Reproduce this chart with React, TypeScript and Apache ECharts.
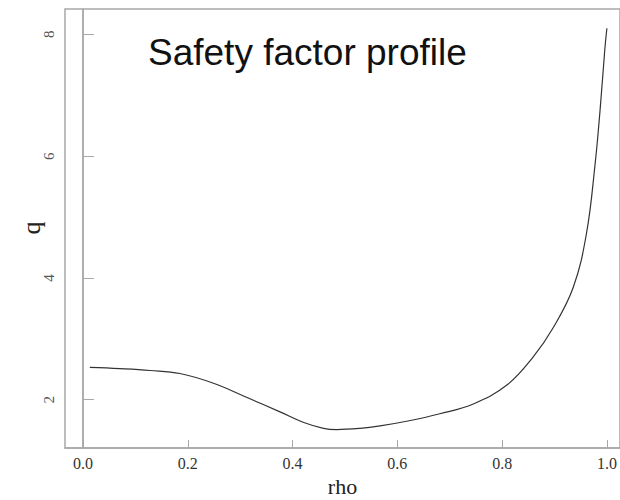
import React, { useEffect, useRef } from "react";
import * as echarts from "echarts";

const rho = [0.013, 0.07, 0.128, 0.185, 0.249, 0.312, 0.376, 0.42, 0.459, 0.484, 0.529, 0.567, 0.62, 0.681, 0.745, 0.809, 0.859, 0.898, 0.936, 0.961, 0.977, 0.987, 0.996, 1.0];
const q = [2.53, 2.51, 2.48, 2.43, 2.27, 2.04, 1.8, 1.63, 1.53, 1.51, 1.53, 1.57, 1.65, 1.77, 1.93, 2.24, 2.7, 3.19, 3.85, 4.73, 5.83, 6.76, 7.75, 8.1];
const xTicks = [0, 0.2, 0.4, 0.6, 0.8, 1.0];
const yTicks = [2, 4, 6, 8];
const titleText = "Safety factor profile";
const xName = "rho";
const yName = "q";

export default function App() {
  const ref = useRef<HTMLDivElement>(null);
  useEffect(() => {
    const chart = echarts.init(ref.current!, null, { renderer: "svg" });
    const axisGray = "#a8a8a8";
    const serif = "Liberation Serif";
    chart.setOption({
      animation: false,
      backgroundColor: "#ffffff",
      title: {
        text: titleText,
        left: 148,
        top: 34,
        padding: 0,
        textStyle: { fontFamily: "Liberation Sans", fontSize: 37, fontWeight: "normal", color: "#111" },
      },
      graphic: [
        {
          type: "text",
          x: 31,
          y: 228,
          rotation: Math.PI / 2,
          style: {
            text: yName,
            fontFamily: serif,
            fontSize: 26,
            fill: "#222",
            align: "center",
            verticalAlign: "middle",
          },
        },
      ],
      grid: {
        left: 65,
        right: 0,
        top: 9,
        bottom: 52,
        outerBoundsMode: "none",
        containLabel: false,
        show: true,
        borderColor: axisGray,
        borderWidth: 1.5,
      },
      xAxis: {
        type: "value",
        min: -0.0344,
        max: 1.025,
        name: xName,
        nameLocation: "middle",
        nameGap: 26,
        nameTextStyle: { fontFamily: serif, fontSize: 22, color: "#222", lineHeight: 22 },
        axisLine: { show: true, lineStyle: { color: axisGray, width: 1.5 } },
        axisTick: { show: true, inside: true, length: 8, customValues: xTicks, lineStyle: { color: axisGray } },
        axisLabel: {
          customValues: xTicks,
          formatter: (v: number) => v.toFixed(1),
          fontFamily: serif,
          fontSize: 16,
          color: "#333",
          margin: 7,
        },
        splitLine: { show: false },
      },
      yAxis: {
        type: "value",
        min: 1.207,
        max: 8.416,
        axisLine: { show: true, lineStyle: { color: axisGray, width: 1.5 } },
        axisTick: { show: true, inside: true, length: 11, customValues: yTicks, lineStyle: { color: axisGray } },
        axisLabel: {
          customValues: yTicks,
          rotate: 90,
          fontFamily: serif,
          fontSize: 15,
          color: "#555",
          margin: 9,
        },
        splitLine: { show: false },
      },
      series: [
        {
          type: "line",
          data: rho.map((r, i) => [r, q[i]]),
          smooth: 0.4,
          showSymbol: false,
          lineStyle: { color: "#333", width: 1.2 },
          markLine: {
            silent: true,
            symbol: "none",
            label: { show: false },
            lineStyle: { color: axisGray, width: 1.5, type: "solid" },
            data: [{ xAxis: 0 }],
          },
        },
      ],
    });
    return () => chart.dispose();
  }, []);
  return <div ref={ref} style={{ position: "fixed", left: 0, top: 0, width: 620, height: 500 }} />;
}
